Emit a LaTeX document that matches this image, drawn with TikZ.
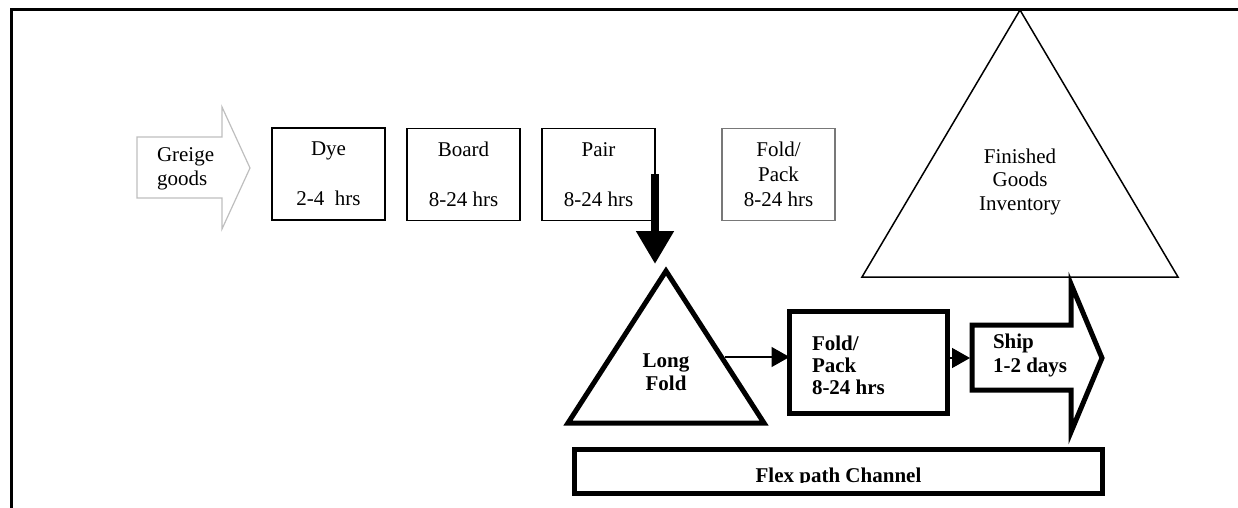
\documentclass[tikz,border=0pt]{standalone}
\usepackage{fontspec}
\setmainfont{Liberation Serif}
\usetikzlibrary{arrows.meta}
\definecolor{greigegray}{RGB}{190,190,190}
\definecolor{boxgray}{RGB}{120,120,120}
\begin{document}
\begin{tikzpicture}[x=0.5pt,y=-0.5pt,
  font=\fontsize{10.5}{11.75}\selectfont,
  every node/.style={inner sep=0pt, outer sep=0pt},
  stepbox/.style={draw, line width=0.8pt, minimum width=56.5pt, minimum height=46pt, align=center, font=\fontsize{10.5}{12.5}\selectfont},
  graybox/.style={stepbox, draw=boxgray, line width=0.6pt},
  thickbox/.style={draw, line width=2.5pt},
  label/.style={align=center},
  boldlabel/.style={align=left, font=\fontsize{10.5}{11}\selectfont\bfseries},
  thinarrow/.style={line width=0.75pt, -{Triangle[width=10pt,length=9pt]}},
  bigarrow/.style={line width=4pt, -{Triangle[width=18pt,length=16.5pt]}},
  line join=miter]
\useasboundingbox (0,0) rectangle (1238,508);

% frame
\draw[line width=1.5pt] (11,508) -- (11,10) -- (1238,10);

% Greige goods arrow
\draw[greigegray, line width=0.6pt] (137,137) -- (222,137) -- (222,107) -- (250,168)
  -- (222,229) -- (222,198) -- (137,198) -- cycle;
\node[anchor=west, align=left] (greige) at (157,169) {Greige\\goods};

% process boxes
\node[stepbox] (dye) at (328.5,174) {Dye\\[12.5pt]2-4\ \ hrs};
\node[stepbox] (board) at (463.5,174.5) {Board\\[12.5pt]8-24 hrs};
\node[stepbox] (pair) at (598.5,174.5) {Pair\\[12.5pt]8-24 hrs};
\node[graybox] (fold1) at (778.5,174.5) {Fold/\\Pack\\8-24 hrs};

% Finished goods inventory triangle
\coordinate (fgtop) at (1020,10);
\coordinate (fgl) at (862,277);
\coordinate (fgr) at (1178,277);
\draw[line width=0.75pt] (fgtop) -- (fgr) -- (fgl) -- cycle;
\node[label] (fgtext) at (1020,181.5) {Finished\\Goods\\Inventory};

% Long Fold triangle
\coordinate (lftop) at (666,271);
\coordinate (lfl) at (568,423);
\coordinate (lfr) at (764,423);
\draw[line width=2.5pt] (lftop) -- (lfr) -- (lfl) -- cycle;
\node[align=center, font=\fontsize{10.5}{11.5}\selectfont\bfseries] (lftext) at (666,372) {Long\\Fold};
\coordinate (lftip) at (666,264);
\coordinate (lfside) at (725,357);

% Fold/Pack thick box
\node[thickbox, minimum width=79pt, minimum height=51pt] (fold2) at (868.5,362.5) {};
\node[boldlabel, anchor=west] (fold2text) at (812,365) {Fold/\\Pack\\8-24 hrs};

% Ship arrow
\draw[line width=2.5pt] (972,325) -- (1071,325) -- (1071,284) -- (1102,358)
  -- (1071,432) -- (1071,390) -- (972,390) -- cycle;
\coordinate (shipw) at (970,358);
\node[boldlabel, anchor=west, font=\fontsize{10.5}{12}\selectfont\bfseries] (shiptext) at (993,355) {Ship\\1-2 days};

% Flex path channel
\node[thickbox, minimum width=264pt, minimum height=22pt] (flex) at (838.5,471.5) {};
\begin{scope}
  \clip (578,440) rectangle (1100,482.5);
  \node[anchor=base, font=\fontsize{10.5}{12}\selectfont\bfseries] (flextext) at (838.5,482) {Flex path Channel};
\end{scope}

% connectors
\draw[bigarrow] (pair.east) -- (pair.east |- lftip);
\draw[thinarrow] (lfside) -- (fold2.west |- lfside);
\draw[thinarrow] (fold2.east |- shipw) -- (shipw);
\end{tikzpicture}
\end{document}
